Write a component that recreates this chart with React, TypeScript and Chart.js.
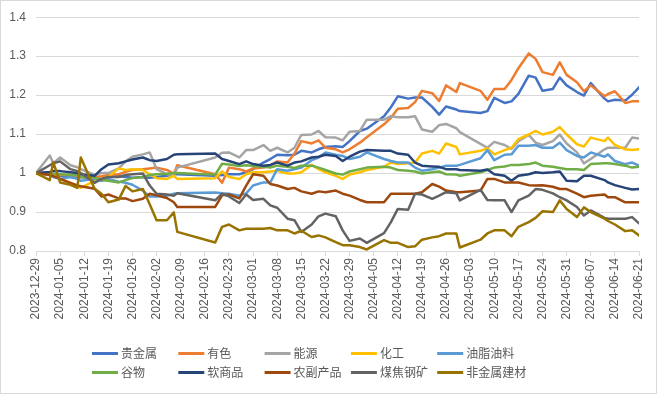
import React, { useEffect, useRef } from "react";
import { Chart, registerables } from "chart.js";

Chart.register(...registerables);

// trading-day offsets (days since 2023-12-29)
const DAYS = [
  0, 4, 5, 7, 10, 12, 13, 17, 19, 21, 24, 26, 28,
  31, 33, 35, 38, 40, 41,
  52, 54, 56, 59,
  61, 63, 66, 68, 70, 73, 75, 77, 80, 82, 84, 87,
  89, 91, 94, 96, 101, 103, 105, 108, 110, 112, 115, 117,
  119, 122, 123, 129, 131, 133, 136, 138, 140, 143, 145,
  147, 150, 152, 154, 157, 159, 161, 165, 166, 168, 171, 173, 175,
];

const TICK_LABELS = [
  "2023-12-29", "2024-01-05", "2024-01-12", "2024-01-19", "2024-01-26", "2024-02-02",
  "2024-02-09", "2024-02-16", "2024-02-23", "2024-03-01", "2024-03-08", "2024-03-15",
  "2024-03-22", "2024-03-29", "2024-04-05", "2024-04-12", "2024-04-19", "2024-04-26",
  "2024-05-03", "2024-05-10", "2024-05-17", "2024-05-24", "2024-05-31", "2024-06-07",
  "2024-06-14", "2024-06-21",
];

const PRECIOUS = [
  1.0, 0.998, 0.995, 0.993, 0.99, 0.988, 0.99, 0.987, 0.985, 0.99, 0.992, 0.99, 0.988,
  0.99, 0.988, 0.99, 0.993, 0.997, 0.997,
  0.993, 0.995, 0.997, 0.997,
  1.002, 1.01, 1.027, 1.036, 1.047, 1.046, 1.047, 1.057, 1.053, 1.061, 1.067, 1.069,
  1.067, 1.082, 1.108, 1.114, 1.146, 1.169, 1.197, 1.191, 1.194, 1.194, 1.17, 1.15,
  1.171, 1.163, 1.159, 1.154, 1.159, 1.193, 1.18, 1.184, 1.203, 1.25, 1.245,
  1.211, 1.216, 1.245, 1.225, 1.208, 1.199, 1.231, 1.191, 1.184, 1.188, 1.186, 1.201, 1.22,
];
const NONFERROUS = [
  1.0, 0.998, 0.997, 0.995, 0.995, 0.993, 0.99, 0.99, 0.992, 0.995, 0.997, 1.003, 1.008,
  1.01, 1.012, 1.014, 1.008, 0.998, 1.02,
  0.997, 0.975, 1.014, 1.01,
  1.004, 1.012, 1.014, 1.019, 1.03, 1.027, 1.05, 1.082, 1.076, 1.084, 1.065, 1.061,
  1.053, 1.061, 1.078, 1.092, 1.125, 1.142, 1.165, 1.167, 1.182, 1.211, 1.205, 1.185,
  1.225, 1.208, 1.231, 1.211, 1.188, 1.216, 1.216, 1.239, 1.269, 1.307, 1.293,
  1.259, 1.252, 1.284, 1.252, 1.233, 1.21, 1.225, 1.197, 1.203, 1.21, 1.18, 1.184, 1.184,
];
const ENERGY = [
  1.0, 1.045, 1.025, 1.04, 1.02, 1.015, 1.01, 0.995, 1.0, 1.0, 1.012, 1.03, 1.042,
  1.048, 1.053, 1.01, 0.997, 0.995, 1.014,
  1.04, 1.052, 1.053, 1.04,
  1.059, 1.059, 1.072, 1.057, 1.065, 1.053, 1.065, 1.098, 1.099, 1.108, 1.092, 1.091,
  1.084, 1.106, 1.108, 1.137, 1.137, 1.146, 1.143, 1.143, 1.146, 1.112, 1.106, 1.123,
  1.126, 1.115, 1.105, 1.075, 1.065, 1.08, 1.072, 1.062, 1.082, 1.098, 1.078,
  1.072, 1.082, 1.099, 1.076, 1.053, 1.025, 1.036, 1.061, 1.065, 1.065, 1.065, 1.091, 1.089,
];
const CHEMICAL = [
  1.0, 0.995, 0.993, 0.985, 0.975, 0.965, 0.962, 0.98, 0.985, 0.99, 1.012, 1.008, 1.01,
  1.008, 0.997, 0.987, 0.985, 0.993, 0.985,
  0.987, 1.004, 0.99, 0.985,
  0.997, 1.002, 1.002, 1.004, 1.006, 0.999, 0.999, 1.002, 1.021, 1.01, 1.002, 0.993,
  0.985, 0.996, 1.002, 1.008, 1.016, 1.027, 1.023, 1.025, 1.027, 1.05, 1.057, 1.05,
  1.076, 1.067, 1.048, 1.057, 1.064, 1.048, 1.059, 1.065, 1.087, 1.099, 1.108,
  1.099, 1.106, 1.118, 1.099, 1.074, 1.068, 1.091, 1.082, 1.091, 1.072, 1.061, 1.059, 1.061,
];
const OILSEEDS = [
  1.0, 0.995, 0.99, 0.985, 0.99, 0.985, 0.98, 0.985, 0.98, 0.985, 0.978, 0.975, 0.97,
  0.955, 0.94, 0.94, 0.942, 0.947, 0.948,
  0.95, 0.948, 0.947, 0.942,
  0.948, 0.968, 0.976, 0.976, 1.01, 1.006, 1.01, 1.014, 1.033, 1.04, 1.053, 1.047,
  1.044, 1.036, 1.042, 1.053, 1.036, 1.031, 1.027, 1.027, 1.014, 1.006, 1.01, 1.014,
  1.019, 1.019, 1.021, 1.038, 1.059, 1.033, 1.047, 1.048, 1.07, 1.07, 1.072,
  1.065, 1.065, 1.078, 1.059, 1.044, 1.04, 1.053, 1.042, 1.048, 1.031, 1.023, 1.027, 1.019,
];
const GRAINS = [
  1.0, 1.0, 0.998, 0.997, 0.995, 0.995, 0.99, 0.988, 0.982, 0.98, 0.976, 0.982, 0.987,
  0.99, 0.995, 0.997, 0.998, 1.0, 1.0,
  0.996, 1.024, 1.022, 1.018,
  1.02, 1.018, 1.016, 1.014, 1.019, 1.016, 1.013, 1.019, 1.019, 1.014, 1.008, 0.999,
  0.996, 1.004, 1.01, 1.014, 1.016, 1.014, 1.008, 1.006, 1.004, 0.999, 1.002, 1.004,
  0.997, 0.996, 0.993, 1.002, 1.008, 1.014, 1.017, 1.021, 1.021, 1.023, 1.027,
  1.019, 1.016, 1.013, 1.01, 1.01, 1.008, 1.023, 1.025, 1.025, 1.023, 1.019, 1.014, 1.016,
];
const SOFTS = [
  1.0, 1.003, 1.005, 1.005, 1.002, 1.0, 0.997, 0.993, 1.01, 1.022, 1.025, 1.03, 1.035,
  1.04, 1.033, 1.031, 1.036, 1.047, 1.048,
  1.05, 1.036, 1.031, 1.023,
  1.03, 1.023, 1.019, 1.021, 1.027, 1.019, 1.027, 1.03, 1.04, 1.042, 1.047, 1.044,
  1.031, 1.042, 1.055, 1.059, 1.057, 1.057, 1.05, 1.047, 1.027, 1.019, 1.017, 1.016,
  1.01, 1.01, 1.008, 1.006, 1.009, 0.997, 0.993, 0.98, 0.993, 0.997, 1.002,
  1.0, 1.002, 1.004, 0.98, 0.979, 0.993, 0.993, 0.982, 0.976, 0.969, 0.962, 0.958, 0.959,
];
const AGRI = [
  1.0, 0.995, 0.992, 0.985, 0.975, 0.968, 0.966, 0.96, 0.94, 0.945, 0.935, 0.935, 0.928,
  0.934, 0.947, 0.943, 0.936, 0.925, 0.913,
  0.913, 0.943, 0.945, 0.935,
  0.968, 0.997, 0.993, 0.972, 0.968, 0.959, 0.962, 0.953, 0.947, 0.953, 0.951, 0.955,
  0.947, 0.942, 0.931, 0.925, 0.925, 0.947, 0.947, 0.947, 0.947, 0.951, 0.972, 0.965,
  0.955, 0.951, 0.951, 0.955, 0.985, 0.985, 0.976, 0.976, 0.976, 0.969, 0.968,
  0.969, 0.965, 0.959, 0.959, 0.947, 0.938, 0.942, 0.945, 0.938, 0.938, 0.925, 0.925, 0.925,
];
const COAL_STEEL = [
  1.0, 1.02, 1.025, 1.03, 1.01, 1.005, 1.0, 0.975, 0.985, 0.99, 0.99, 0.995, 0.997,
  0.999, 0.968, 0.947, 0.945, 0.942, 0.948,
  0.93, 0.947, 0.94, 0.923,
  0.945, 0.931, 0.934, 0.917, 0.911, 0.883, 0.879, 0.849, 0.868, 0.889, 0.896, 0.889,
  0.853, 0.826, 0.832, 0.821, 0.846, 0.874, 0.908, 0.906, 0.947, 0.945, 0.934, 0.942,
  0.951, 0.948, 0.93, 0.957, 0.931, 0.93, 0.93, 0.9, 0.93, 0.942, 0.959,
  0.957, 0.948, 0.938, 0.93, 0.913, 0.891, 0.904, 0.885, 0.883, 0.883, 0.883, 0.887, 0.871,
];
const NONMETAL = [
  1.0, 0.982, 1.028, 0.976, 0.97, 0.962, 1.04, 0.96, 0.947, 0.925, 0.932, 0.967, 0.953,
  0.959, 0.92, 0.879, 0.879, 0.899, 0.849,
  0.822, 0.862, 0.868, 0.853,
  0.857, 0.857, 0.857, 0.859, 0.853, 0.853, 0.845, 0.852, 0.836, 0.84, 0.835, 0.823,
  0.815, 0.815, 0.81, 0.804, 0.828, 0.821, 0.821, 0.81, 0.812, 0.829, 0.835, 0.838,
  0.845, 0.845, 0.809, 0.829, 0.845, 0.853, 0.853, 0.838, 0.862, 0.874, 0.885,
  0.902, 0.9, 0.93, 0.908, 0.887, 0.912, 0.9, 0.883, 0.877, 0.868, 0.851, 0.853, 0.84,
];

const SERIES_NAMES = ["贵金属", "有色", "能源", "化工", "油脂油料", "谷物", "软商品", "农副产品", "煤焦钢矿", "非金属建材"];
const SERIES_VALUES = [PRECIOUS, NONFERROUS, ENERGY, CHEMICAL, OILSEEDS, GRAINS, SOFTS, AGRI, COAL_STEEL, NONMETAL];
const COLORS = ["#4472C4", "#ED7D31", "#A5A5A5", "#FFC000", "#5B9BD5", "#70AD47", "#264478", "#9E480E", "#636363", "#997300"];

const FONT = '"Liberation Sans", "Noto Sans CJK SC", sans-serif';
const TEXT = "#595959";
const GRID = "#D9D9D9";

const gridLegend = {
  id: "gridLegend",
  afterDraw(chart: any) {
    const ctx = chart.ctx;
    ctx.save();
    ctx.font = `12px ${FONT}`;
    ctx.textBaseline = "middle";
    ctx.textAlign = "left";
    SERIES_NAMES.forEach((name, i) => {
      const col = i % 5;
      const row = Math.floor(i / 5);
      const x = 92 + col * 86.3;
      const y = 353.5 + row * 19;
      ctx.strokeStyle = COLORS[i];
      ctx.lineWidth = 3;
      ctx.lineCap = "butt";
      ctx.beginPath();
      ctx.moveTo(x, y);
      ctx.lineTo(x + 26, y);
      ctx.stroke();
      ctx.fillStyle = TEXT;
      ctx.fillText(name, x + 29, y + 1);
    });
    ctx.strokeStyle = GRID;
    ctx.lineWidth = 1;
    ctx.strokeRect(0.5, 0.5, chart.width - 1, chart.height - 1);
    ctx.restore();
  },
};

export default function App() {
  const ref = useRef<HTMLCanvasElement | null>(null);

  useEffect(() => {
    if (!ref.current) return;
    const chart = new Chart(ref.current, {
      type: "line",
      data: {
        datasets: SERIES_NAMES.map((name, i) => ({
          label: name,
          data: DAYS.map((d, j) => ({ x: d, y: SERIES_VALUES[i][j] })),
          borderColor: COLORS[i],
          backgroundColor: COLORS[i],
          borderWidth: 2.5,
          borderJoinStyle: "round" as const,
          borderCapStyle: "round" as const,
          pointRadius: 0,
          tension: 0,
          fill: false,
          order: SERIES_NAMES.length - i,
        })),
      },
      options: {
        animation: false,
        responsive: false,
        maintainAspectRatio: false,
        layout: { padding: { top: 15, right: 18, left: 0, bottom: 0 } },
        plugins: {
          legend: { display: false },
          tooltip: { enabled: false },
        },
        scales: {
          x: {
            type: "linear",
            min: 0,
            max: 175,
            afterFit: (s: any) => {
              s.height = 143;
            },
            ticks: {
              stepSize: 7,
              autoSkip: false,
              maxRotation: 90,
              minRotation: 90,
              color: TEXT,
              padding: 2,
              font: { size: 12, family: FONT },
              callback: (v: any) => TICK_LABELS[Math.round(Number(v) / 7)] ?? "",
            },
            grid: { drawOnChartArea: false, drawTicks: true, tickLength: 5, color: GRID },
            border: { display: true, color: GRID },
          },
          y: {
            min: 0.8,
            max: 1.4,
            afterFit: (s: any) => {
              s.width = 36;
            },
            ticks: {
              stepSize: 0.1,
              color: TEXT,
              padding: 10,
              font: { size: 12, family: FONT },
              callback: (v: any) => String(Math.round(Number(v) * 10) / 10),
            },
            grid: { color: GRID, drawTicks: false },
            border: { display: false },
          },
        },
      },
      plugins: [gridLegend],
    });
    return () => chart.destroy();
  }, []);

  return (
    <div style={{ position: "fixed", left: 0, top: 0, width: 657, height: 394, background: "#fff" }}>
      <canvas ref={ref} width={657} height={394} style={{ display: "block" }} />
    </div>
  );
}
